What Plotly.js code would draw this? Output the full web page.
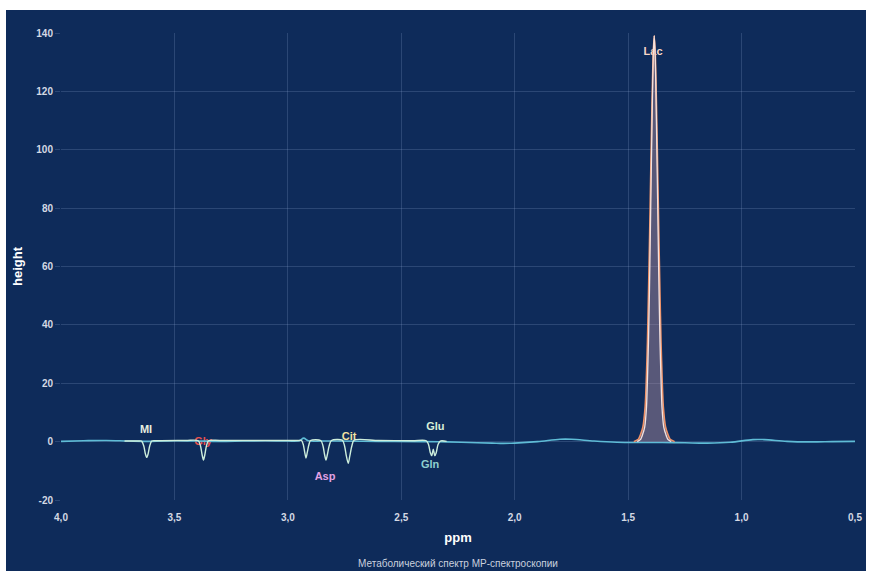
<!DOCTYPE html>
<html>
<head>
<meta charset="utf-8">
<script src="https://cdn.plot.ly/plotly-3.0.1.min.js"></script>
<style>
  html, body { margin: 0; padding: 0; background: #ffffff; width: 870px; height: 571px; overflow: hidden; }
  #chart { position: absolute; left: 6px; top: 10px; width: 860px; height: 561px; }
</style>
</head>
<body>
<div id="chart"></div>
<script>
// ---- Data ----
// Measured spectrum baseline (ppm, height)
const spectrumPpm = [4.00, 3.90, 3.80, 3.70, 3.60, 3.50, 3.40, 3.30, 3.20, 3.10, 3.00, 2.95, 2.93, 2.91, 2.85, 2.80, 2.60, 2.40, 2.30, 2.20, 2.10, 2.05, 2.00, 1.90, 1.80, 1.75, 1.65, 1.55, 1.45, 1.35, 1.25, 1.15, 1.05, 0.95, 0.90, 0.80, 0.70, 0.60, 0.50];
const spectrumHeight = [0.1, 0.3, 0.4, 0.2, 0.1, 0.3, 0.2, 0.1, 0.2, 0.3, 0.2, 0.3, 1.2, 0.3, 0.2, 0.2, 0.1, 0.0, -0.1, -0.3, -0.5, -0.6, -0.5, 0.0, 0.8, 0.8, 0.2, -0.2, -0.3, -0.3, -0.4, -0.5, -0.2, 0.7, 0.7, 0.1, -0.1, 0.0, 0.1];

// Metabolite fit (MI, Gly, Asp, Cit, Glu/Gln dips)
const fitPpm = [3.72, 3.66, 3.645, 3.635, 3.628, 3.622, 3.616, 3.609, 3.60, 3.58, 3.45, 3.395, 3.385, 3.378, 3.372, 3.366, 3.359, 3.35, 3.30, 3.10, 2.95, 2.94, 2.932, 2.926, 2.92, 2.914, 2.907, 2.90, 2.855, 2.845, 2.838, 2.832, 2.826, 2.818, 2.808, 2.76, 2.75, 2.742, 2.734, 2.727, 2.718, 2.708, 2.60, 2.45, 2.39, 2.38, 2.372, 2.366, 2.359, 2.352, 2.346, 2.338, 2.328, 2.30];
const fitHeight = [0.2, 0.2, 0.2, -1.5, -4.2, -5.4, -4.2, -1.5, 0.2, 0.3, 0.4, 0.3, -1.5, -4.5, -6.3, -4.5, -1.5, 0.3, 0.4, 0.4, 0.4, 0.4, -1.0, -3.5, -5.6, -3.5, -1.0, 0.4, 0.4, -1.5, -4.5, -6.3, -4.5, -1.5, 0.4, 0.5, -1.5, -5.0, -7.4, -5.0, -1.5, 0.5, 0.4, 0.3, 0.3, -1.0, -3.8, -4.8, -2.6, -4.8, -3.8, -1.0, 0.2, 0.1];

// Lactate peak: fitted (outer) and observed (inner)
const lacFitPpm = [1.475, 1.455, 1.445, 1.435, 1.425, 1.42, 1.415, 1.41, 1.405, 1.40, 1.395, 1.39, 1.385, 1.38, 1.375, 1.37, 1.365, 1.36, 1.355, 1.35, 1.345, 1.335, 1.325, 1.315, 1.295];
const lacFitHeight = [0, 0.8, 2.5, 5, 12, 21, 34, 52, 72, 94, 115, 132, 139, 132, 115, 94, 72, 52, 34, 21, 12, 5, 2.5, 0.8, 0];
const lacObsPpm = [1.46, 1.445, 1.436, 1.427, 1.419, 1.415, 1.4105, 1.406, 1.402, 1.3978, 1.3935, 1.3893, 1.385, 1.3807, 1.3765, 1.3722, 1.368, 1.364, 1.3595, 1.355, 1.351, 1.343, 1.334, 1.325, 1.31];
const lacObsHeight = [0, 0.8, 2.5, 5, 12, 21, 34, 52, 72, 94, 115, 132, 139, 132, 115, 94, 72, 52, 34, 21, 12, 5, 2.5, 0.8, 0];

// Metabolite labels
const labelNames = ["MI", "Gly", "Asp", "Cit", "Glu", "Gln", "Lac"];
const labelPpm = [3.625, 3.374, 2.836, 2.73, 2.35, 2.373, 1.39];
const labelHeight = [3.8, -0.3, -12.3, 1.4, 4.8, -8.2, 133.5];

// Axis tick values / labels
const xTickVals = [4.0, 3.5, 3.0, 2.5, 2.0, 1.5, 1.0, 0.5];
const yTickVals = [-20, 0, 20, 40, 60, 80, 100, 120, 140];
const yTickText = ["-20", "0", "20", "40", "60", "80", "100", "120", "140"];

// ---- Styles ----
const labelColors = ["#e6efe0", "#e8524f", "#e2a2e4", "#f3e2a3", "#d8efd8", "#8fcfcf", "#f6d6c6"];
const BG = "#0e2b5a";

const traces = [
  {
    x: labelPpm, y: labelHeight, text: labelNames, mode: "text", type: "scatter",
    textposition: "middle center",
    textfont: { family: "Liberation Sans, Arial, sans-serif", size: 11, color: labelColors, weight: "bold" },
    hoverinfo: "skip", showlegend: false
  },
  {
    x: spectrumPpm, y: spectrumHeight, mode: "lines", type: "scatter",
    line: { color: "#5fbcd6", width: 1.6, shape: "spline", smoothing: 1 },
    showlegend: false
  },
  {
    x: fitPpm, y: fitHeight, mode: "lines", type: "scatter",
    line: { color: "#cdeedc", width: 1.4, shape: "spline", smoothing: 0.8 },
    showlegend: false
  },
  {
    x: lacFitPpm, y: lacFitHeight, mode: "lines", type: "scatter",
    fill: "tozeroy", fillcolor: "rgba(190,150,165,0.42)",
    line: { color: "#ee9268", width: 1.6, shape: "spline", smoothing: 0.6 },
    showlegend: false
  },
  {
    x: lacObsPpm, y: lacObsHeight, mode: "lines", type: "scatter",
    line: { color: "#f3e2df", width: 1.3, shape: "spline", smoothing: 0.6 },
    showlegend: false
  }
];

const tickFont = { family: "Liberation Sans, Arial, sans-serif", size: 10, color: "#d4d9e4", weight: "bold" };
const gridColor = "rgba(150,175,215,0.22)";

const layout = {
  width: 860, height: 561,
  paper_bgcolor: BG, plot_bgcolor: BG,
  margin: { l: 55, r: 11, t: 23, b: 71 },
  separators: ", ",
  showlegend: false,
  font: { family: "Liberation Sans, Arial, sans-serif", color: "#ffffff" },
  xaxis: {
    range: [4.0, 0.5], autorange: false,
    tickvals: xTickVals,
    tickformat: ".1f",
    tickfont: tickFont,
    gridcolor: gridColor, zeroline: false, showline: false,
    ticks: "outside", ticklen: 8, tickcolor: "rgba(0,0,0,0)",
    title: { text: "ppm", font: { family: "Liberation Sans, Arial, sans-serif", size: 13, color: "#ffffff", weight: "bold" }, standoff: 10 }
  },
  yaxis: {
    range: [-20, 140], autorange: false,
    tickmode: "array", tickvals: yTickVals, ticktext: yTickText,
    tickfont: tickFont,
    gridcolor: gridColor, zeroline: false, showline: false,
    ticks: "outside", ticklen: 5, tickcolor: gridColor,
    title: { text: "height", font: { family: "Liberation Sans, Arial, sans-serif", size: 13, color: "#ffffff", weight: "bold" }, standoff: 10 }
  },
  annotations: [{
    text: "Метаболический спектр МР-спектроскопии",
    xref: "paper", yref: "paper", x: 0.5, y: -0.135,
    xanchor: "center", yanchor: "middle", showarrow: false,
    font: { family: "Liberation Sans, Arial, sans-serif", size: 10, color: "#c9d0de" }
  }]
};

Plotly.newPlot("chart", traces, layout, { displayModeBar: false, staticPlot: true });
</script>
</body>
</html>
